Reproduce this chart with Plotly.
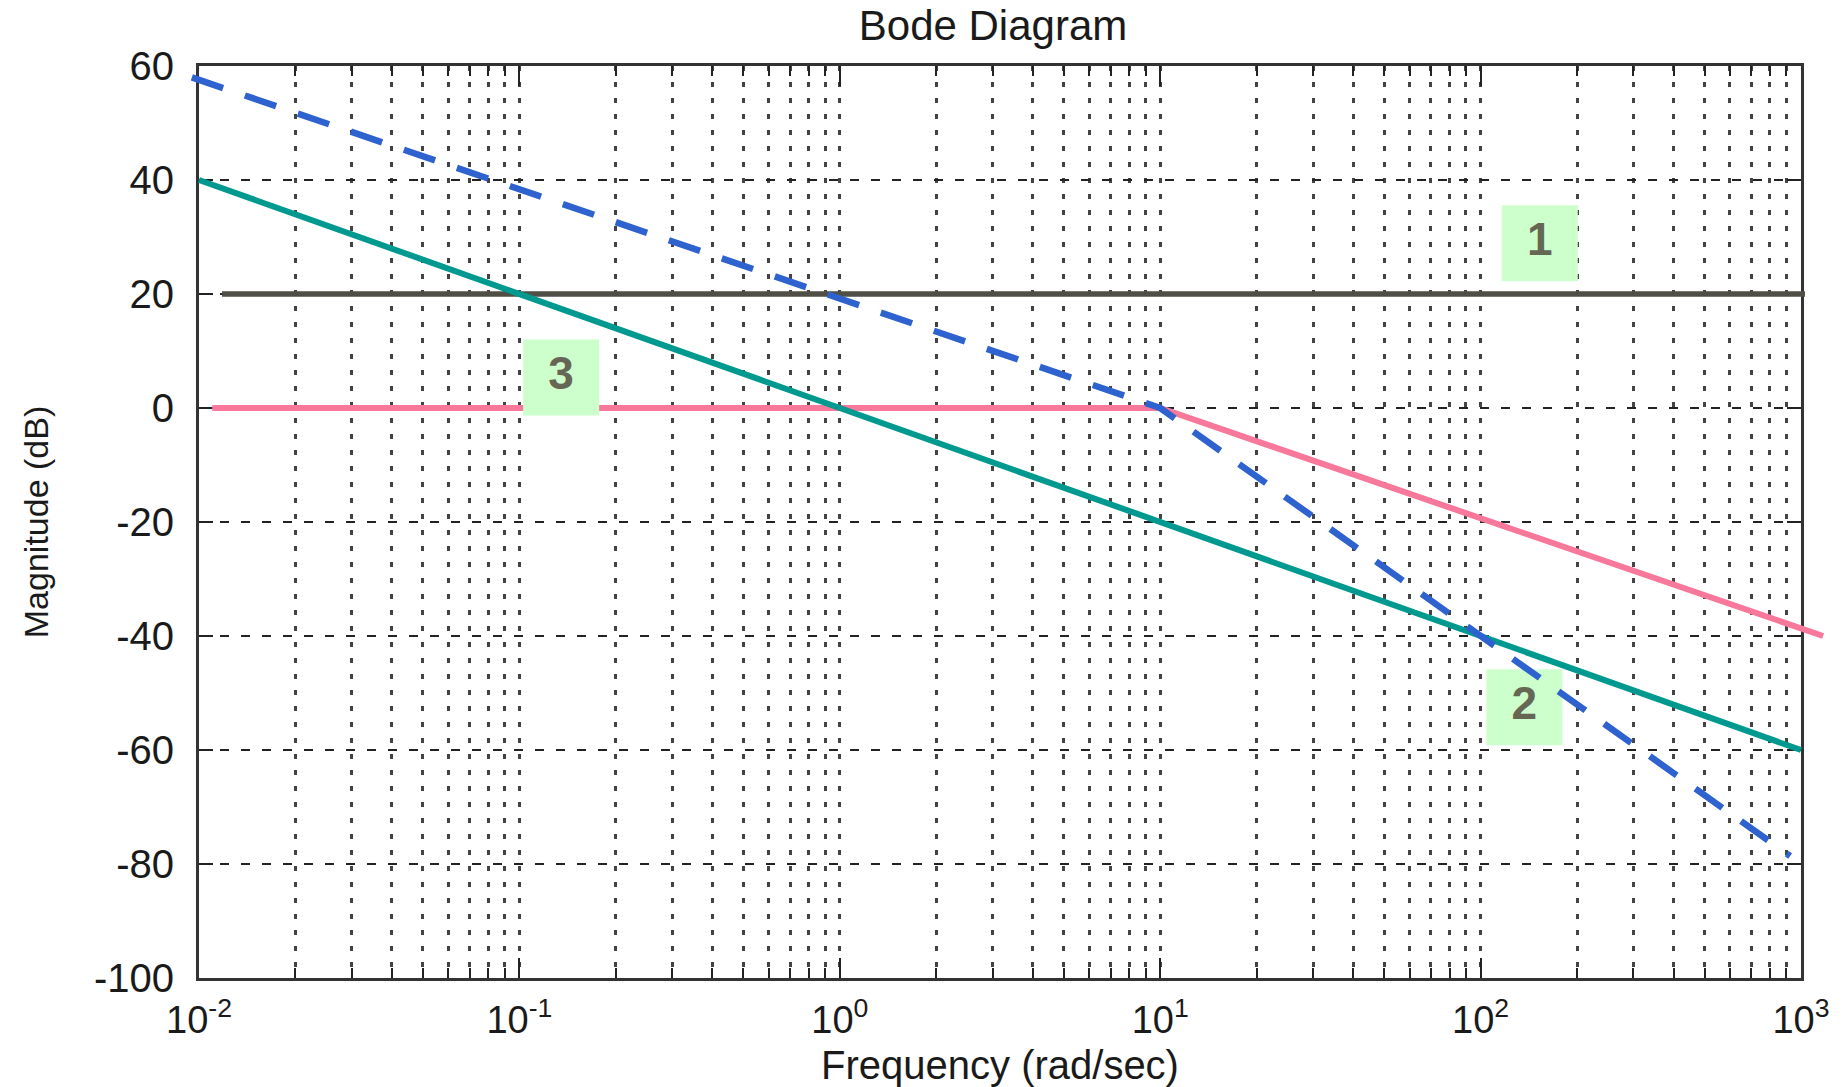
import plotly.graph_objects as go

# ---- data ----
freq_k = [0.0118, 1029]          # line 1: constant gain
mag_k = [20, 20]
freq_int = [0.01, 1000]          # line 2 (teal): integrator
mag_int = [40, -60]
freq_lag = [0.011, 10, 1172]     # line 3 (pink): first-order lag
mag_lag = [0, 0, -40]
freq_tot = [0.0095, 10, 925]     # dashed blue: overall
mag_tot = [58, 0, -78.6]

label_text = ["1", "2", "3"]
label_freq = [153, 137, 0.135]
label_mag = [28.9, -52.5, 5.35]

x_tick_vals = [0.01, 0.1, 1, 10, 100, 1000]
x_tick_text = ["10<sup>-2</sup>", "10<sup>-1</sup>", "10<sup>0</sup>",
               "10<sup>1</sup>", "10<sup>2</sup>", "10<sup>3</sup>"]
x_minor_vals = [m * 10.0 ** e for e in range(-2, 3) for m in range(2, 10)]
y_tick_vals = [-100, -80, -60, -40, -20, 0, 20, 40, 60]
y_tick_text = ["-100", "-80", "-60", "-40", "-20", "0", "20", "40", "60"]

FONT = "Liberation Sans, Arial, Helvetica, sans-serif"
TXT = "#1a1a1a"

fig = go.Figure()
# empty trace so that the framed x/y subplot (grid, ticks) is created
fig.add_trace(go.Scatter(x=[None], y=[None], xaxis="x", yaxis="y", mode="lines",
                         hoverinfo="skip", showlegend=False))
common = dict(xaxis="x2", yaxis="y2", hoverinfo="skip", showlegend=False)
fig.add_trace(go.Scatter(x=freq_k, y=mag_k, mode="lines",
                         line=dict(color="#4f4f45", width=5.5), **common))
fig.add_trace(go.Scatter(x=freq_lag, y=mag_lag, mode="lines",
                         line=dict(color="#f7789b", width=6), **common))
fig.add_trace(go.Scatter(x=freq_int, y=mag_int, mode="lines",
                         line=dict(color="#00998f", width=6), **common))
fig.add_trace(go.Scatter(x=label_freq, y=label_mag, mode="markers+text",
                         text=["<b>%s</b>" % t for t in label_text],
                         textposition="middle center",
                         textfont=dict(family=FONT, size=46, color="#666655"),
                         marker=dict(symbol="square", size=76, color="#ccffcc",
                                     line=dict(width=0)), **common))
fig.add_trace(go.Scatter(x=freq_tot, y=mag_tot, mode="lines",
                         line=dict(color="#2e62cf", width=6.5, dash="33px,23px"), **common))

W, H = 1847, 1087
ML, MR, MT, MB = 185, 20, 66, 109
pw = W - ML - MR
left_px, right_px = 199, 1801
dec_px = (right_px - left_px) / 5.0
x_dom = [(left_px - ML) / pw, (right_px - ML) / pw]
x2_range = [-2 - (left_px - ML) / dec_px, -2 - (left_px - ML) / dec_px + pw / dec_px]

fig.update_layout(
    width=W, height=H,
    margin=dict(l=ML, r=MR, t=MT, b=MB, autoexpand=False),
    paper_bgcolor="white", plot_bgcolor="rgba(0,0,0,0)",
    font=dict(family=FONT, color=TXT),
    showlegend=False,
    title=dict(text="Bode Diagram", font=dict(size=42, color=TXT, family=FONT),
               x=993 / W, xref="container", xanchor="center",
               y=1 - 25 / H, yref="container", yanchor="middle"),
    xaxis=dict(
        type="log", range=[-2, 3], domain=x_dom, anchor="y", automargin=False,
        tickmode="array", tickvals=x_tick_vals, ticktext=x_tick_text,
        tickfont=dict(size=38, color=TXT), ticklabelstandoff=6,
        ticks="inside", ticklen=20, tickwidth=2, tickcolor="#222",
        showline=True, linewidth=3, linecolor="#333", mirror="allticks",
        showgrid=True, gridcolor="#444", gridwidth=3, griddash="5px,11px",
        minor=dict(tickmode="array", tickvals=x_minor_vals, ticks="inside",
                   ticklen=10, tickwidth=2, tickcolor="#222",
                   showgrid=True, gridcolor="#444", gridwidth=3, griddash="5px,11px"),
        zeroline=False,
        title=dict(text="Frequency (rad/sec)", font=dict(size=40, color=TXT), standoff=18),
    ),
    yaxis=dict(
        range=[-100, 60], domain=[0, 1], anchor="x", automargin=False,
        tickmode="array", tickvals=y_tick_vals, ticktext=y_tick_text,
        tickfont=dict(size=40, color=TXT), ticklabelstandoff=14,
        ticks="inside", ticklen=14, tickwidth=2, tickcolor="#222",
        showline=True, linewidth=3, linecolor="#333", mirror="allticks",
        showgrid=True, gridcolor="#222", gridwidth=2, griddash="9px,12px",
        zeroline=False,
        title=dict(text="Magnitude (dB)", font=dict(size=34, color=TXT), standoff=36),
    ),
    xaxis2=dict(type="log", range=x2_range, domain=[0, 1], anchor="y2", automargin=False,
                visible=False, showgrid=False, zeroline=False),
    yaxis2=dict(range=[-100, 60], domain=[0, 1], anchor="x2", automargin=False,
                visible=False, showgrid=False, zeroline=False),
)

fig.write_html("out.html")
